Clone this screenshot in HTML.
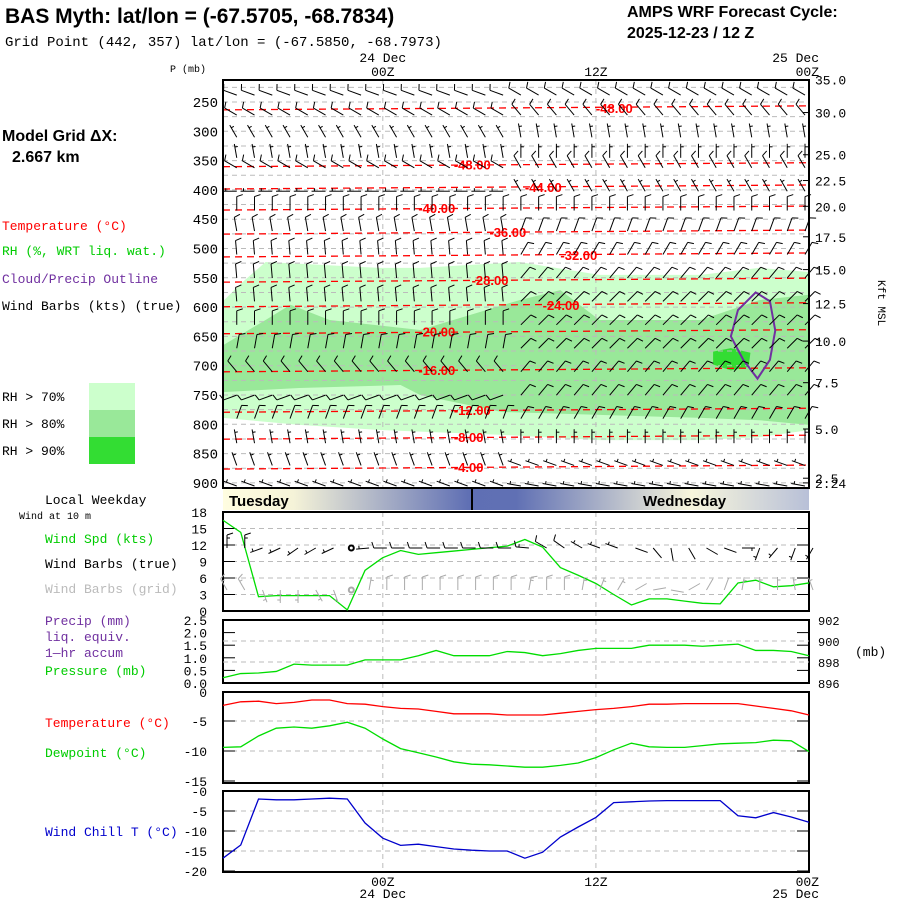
<!DOCTYPE html>
<html><head><meta charset="utf-8"><style>
body{margin:0;background:#fff}
svg{display:block}
text{font-family:"Liberation Mono",monospace}
.sans{font-family:"Liberation Sans",sans-serif}
</style></head><body>
<svg id="c" width="900" height="900" viewBox="0 0 900 900" xmlns="http://www.w3.org/2000/svg">
<defs>
<linearGradient id="dayg" x1="0" x2="1" y1="0" y2="0">
<stop offset="0" stop-color="#fffde0"/><stop offset="0.12" stop-color="#f5f3d8"/><stop offset="0.42" stop-color="#5f6fb4"/><stop offset="0.5" stop-color="#6070b4"/><stop offset="0.8" stop-color="#f8f6dc"/><stop offset="1" stop-color="#b8c0d8"/>
</linearGradient>
</defs>
<text x="5" y="23" class="sans" font-size="21" font-weight="bold">BAS Myth:  lat/lon = (-67.5705, -68.7834)</text>
<text x="5" y="46" font-size="14">Grid Point (442, 357) lat/lon = (-67.5850, -68.7973)</text>
<text x="627" y="17" class="sans" font-size="16" font-weight="bold">AMPS WRF Forecast Cycle:</text>
<text x="627" y="38" class="sans" font-size="16" font-weight="bold">2025-12-23 / 12  Z</text>
<text x="2" y="141" class="sans" font-size="16" font-weight="bold">Model Grid ΔX:</text>
<text x="12" y="162" class="sans" font-size="16" font-weight="bold">2.667 km</text>
<text x="2" y="230" font-size="13" fill="#ff0000">Temperature (°C)</text>
<text x="2" y="255" font-size="13" fill="#00cc00">RH (%, WRT liq. wat.)</text>
<text x="2" y="283" font-size="13" fill="#7030a0">Cloud/Precip Outline</text>
<text x="2" y="310" font-size="13" fill="#000">Wind Barbs (kts) (true)</text>
<rect x="89" y="383" width="46" height="27" fill="#ccffcc"/>
<rect x="89" y="410" width="46" height="27" fill="#99e899"/>
<rect x="89" y="437" width="46" height="27" fill="#33dd33"/>
<text x="2" y="401" font-size="13">RH &gt; 70%</text>
<text x="2" y="428" font-size="13">RH &gt; 80%</text>
<text x="2" y="455" font-size="13">RH &gt; 90%</text>
<text x="170" y="72" font-size="10">P (mb)</text>
<text x="878" y="280" font-size="11" transform="rotate(90 878 280)">Kft MSL</text>
<text x="45" y="504" font-size="13">Local Weekday</text>
<text x="19" y="519" font-size="10">Wind at 10 m</text>
<text x="45" y="543" font-size="13" fill="#00cc00">Wind Spd (kts)</text>
<text x="45" y="568" font-size="13">Wind Barbs (true)</text>
<text x="45" y="593" font-size="13" fill="#bbbbbb">Wind Barbs (grid)</text>
<text x="45" y="625" font-size="13" fill="#7030a0">Precip (mm)</text>
<text x="45" y="641" font-size="13" fill="#7030a0">liq. equiv.</text>
<text x="45" y="657" font-size="13" fill="#7030a0">1—hr accum</text>
<text x="45" y="675" font-size="13" fill="#00cc00">Pressure (mb)</text>
<text x="45" y="727" font-size="13" fill="#ff0000">Temperature (°C)</text>
<text x="45" y="757" font-size="13" fill="#00cc00">Dewpoint (°C)</text>
<text x="45" y="836" font-size="13" fill="#0000cc">Wind Chill T (°C)</text>
<text x="855" y="656" font-size="13">(mb)</text>
<g id="layer"></g>
</svg>
<script>
// ---------- data ----------
const hours = [];for(let i=0;i<=33;i++)hours.push(i); // hours since 15Z 23 Dec
const windSpd = [16.5,14.3,2.6,2.8,2.8,2.8,2.8,0.2,7.4,9.7,11,10.3,10.6,10.9,11.2,11.5,11.8,13,11.6,7.9,6.5,5,3,1.1,2.2,2.2,1.8,1.4,1.3,5.1,5.6,4.4,4.6,5.1];
const sfcPres = [896.5,896.9,896.95,897.1,897.8,897.7,897.7,897.7,898.2,898.2,898.2,898.6,899.1,898.6,898.6,898.6,899,898.9,898.6,898.8,899.1,899.3,899.3,899.3,899.6,899.6,899.6,899.5,899.6,899.7,899.1,899.1,899,898.6];
const temp = [-2.4,-1.8,-1.7,-2.1,-1.9,-1.5,-1.5,-2.1,-2.2,-2.6,-2.9,-3,-3.4,-3.8,-3.8,-3.8,-4,-4,-4,-3.7,-3.4,-3.1,-2.9,-2.6,-2.2,-2.2,-2.1,-2.1,-2.1,-2.1,-2.5,-2.9,-3.3,-4];
const dewpt = [-9.4,-9.3,-7.5,-6.2,-6,-6.2,-5.8,-5.2,-6.2,-8,-9.6,-10.3,-11,-11.8,-12.2,-12.3,-12.5,-12.7,-12.7,-12.4,-12,-11.1,-9.8,-8.7,-9.3,-9.4,-9.4,-9.1,-8.8,-8.7,-8.6,-8.2,-8.3,-10.1];
const windChill = [-16.8,-13.5,-2,-2.2,-2.2,-2,-1.8,-2,-8,-11.8,-13.6,-13.3,-13.9,-14.5,-14.8,-15,-15,-16.8,-15.3,-11.5,-9,-6.6,-2.9,-2.7,-2.5,-2.4,-2.4,-2.4,-2.4,-6.2,-6.7,-5.4,-6.5,-7.8];
const sfcDirTrue = [0,0,250,245,235,240,245,-1,265,270,270,270,270,270,270,270,270,275,300,305,300,290,290,110,140,170,150,120,110,90,200,220,200,210];
const sfcDirGrid = [330,330,160,180,180,150,160,-1,10,0,0,0,0,0,0,0,0,10,0,0,10,20,30,60,80,100,60,30,20,10,0,0,350,340];
const presTicks = [250,300,350,400,450,500,550,600,650,700,750,800,850,900];
const kftTicks = ["35.0","30.0","25.0","22.5","20.0","17.5","15.0","12.5","10.0","7.5","5.0","2.5","2.24"];
const kftPres = [212,268,340,384,428,480,536,594,658,729,808,892,900];
const barbLevels = [228,262,300,335,352,392,425,460,500,540,580,620,660,700,740,780,822,860,895];
const barbDirL = [290,300,330,350,300,270,0,350,355,355,355,0,10,320,250,20,350,340,290];
const barbDirR = [300,320,350,0,330,330,0,20,30,40,45,45,45,40,40,30,0,290,280];
const barbSpdL = [10,10,5,5,10,5,10,10,10,10,10,10,10,10,10,10,5,5,5];
const barbSpdR = [10,10,5,5,10,5,10,10,10,10,10,10,10,10,10,10,5,5,5];
const tLevels = [260,357,395,431,472,511,554,596,642,707,776,822,873];
const tLabels = ["-48.00","-48.00","-44.00","-40.00","-36.00","-32.00","-28.00","-24.00","-20.00","-16.00","-12.00","-8.00","-4.00"];
const tLabelHour = [21,13,17,11,15,19,14,18,11,11,13,13,13];
const rh70 = [[0,590],[1,560],[2.4,523],[8.8,533],[11.1,533],[16.7,523],[21.2,545],[26.9,545],[30.2,533],[33,540],[33,810],[30.2,822],[26.9,827],[21.2,827],[15.7,818],[9,810],[4.3,801],[0,789]];
const rh80 = [[0,665],[2.4,622],[3.8,596],[6,622],[11.1,639],[16.7,588],[19,571],[21.2,622],[26.9,622],[30.2,588],[33,579],[33,801],[30.2,793],[26.9,789],[21.2,784],[15.7,779],[11.1,750],[10,733],[4.3,738],[0,745]];
const rh90 = [[27.6,676],[28.6,670],[29.7,678],[29.6,702],[28.6,708],[27.6,698]];
const cloud = [[30.0,575],[30.8,590],[31.1,640],[30.8,690],[30.1,722],[29.3,690],[28.6,650],[29.0,605]];
// ---------- axes ----------
const X0=223,X1=809;
const xs=h=>X0+h*(X1-X0)/33;
const yp=p=>102+(p-250)*0.586;
const yw=v=>611-v*5.5;
const ypr=v=>683-(v-896)*10.5;
const yt=v=>691-v*6;
const ywc=v=>791-v*4.0;
const NS="http://www.w3.org/2000/svg";
const L=document.getElementById('layer');
function el(t,a,parent){const e=document.createElementNS(NS,t);for(const k in a)e.setAttribute(k,a[k]);(parent||L).appendChild(e);return e;}
function txt(x,y,s,a){const e=el('text',Object.assign({x:x,y:y},a||{}));e.textContent=s;return e;}
[[rh70,'#ccffcc','rh70-region'],[rh80,'#99e899','rh80-region'],[rh90,'#33dd33','rh90-region']].forEach(r=>{
 const e=el('polygon',{points:r[0].map(q=>xs(q[0])+','+yp(q[1])).join(' '),fill:r[1]});
 
 
});
for(let p=225;p<=900;p+=25){const e=el('line',{x1:X0,x2:X1,y1:yp(p),y2:yp(p),stroke:'#bbb','stroke-dasharray':'5,4'});
 
 }
[9,21].forEach(h=>{[[80,488],[512,872]].forEach(s=>{const e=el('line',{x1:xs(h),x2:xs(h),y1:s[0],y2:s[1],stroke:'#bbb','stroke-dasharray':'5,4'});
 
 });});
tLevels.forEach((p,i)=>{
 const e=el('line',{x1:X0,x2:X1,y1:yp(p)+2,y2:yp(p)-2,stroke:'#ff0000','stroke-dasharray':'7,5','stroke-width':1.3});
 
 
 const t=txt(xs(tLabelHour[i]),yp(p)+5,tLabels[i],{fill:'#ff0000','font-size':13,'font-weight':'bold','class':'sans'});
 
 
});
{const e=el('polygon',{points:cloud.map(q=>xs(q[0])+','+yp(q[1])).join(' '),fill:'none',stroke:'#7030a0','stroke-width':2});
 
 }
function barb(x,y,dir,spd,col,len,calm){
 const g=el('g',{stroke:col,fill:'none','stroke-width':1});
 if(dir<0||spd<calm){el('circle',{cx:x,cy:y,r:2.5,'stroke-width':2},g);return g;}
 const r=dir*Math.PI/180,dx=Math.sin(r),dy=-Math.cos(r);
 const ex=x+dx*len,ey=y+dy*len;
 el('line',{x1:x,y1:y,x2:ex,y2:ey},g);
 let s=Math.round(spd/5)*5,pos=0;
 const px=-dy,py=dx;
 while(s>=10){const bx=ex-dx*pos*3,by=ey-dy*pos*3;el('line',{x1:bx,y1:by,x2:bx+px*6+dx*2,y2:by+py*6+dy*2},g);s-=10;pos++;}
 if(s>=5){if(pos===0)pos=1;const bx=ex-dx*pos*3,by=ey-dy*pos*3;el('line',{x1:bx,y1:by,x2:bx+px*3,y2:by+py*3},g);}
 return g;
}
barbLevels.forEach((p,i)=>{
 hours.forEach(h=>{
  if(h===0)return;
  const right=h>16;
  const g=barb(xs(h)-4,yp(p)+6,right?barbDirR[i]:barbDirL[i],right?barbSpdR[i]:barbSpdL[i],'#000',14,2.5);
  
  
 });
});
{const e=el('rect',{x:X0,y:80,width:X1-X0,height:408,fill:'none',stroke:'#000','stroke-width':2});
 
 }
presTicks.forEach(p=>{const t=txt(218,yp(p)+5,String(p),{'font-size':14,'text-anchor':'end'});
 
 });
kftTicks.forEach((k,i)=>{const y=yp(kftPres[i]);
 el('line',{x1:X1-6,x2:X1,y1:y,y2:y,stroke:'#000'});
 const t=txt(815,y+5,k,{'font-size':13});
 
 });
[[9,'24 Dec','00Z'],[21,'','12Z'],[33,'25 Dec','00Z']].forEach(a=>{
 const x=a[0]===33?xs(a[0])+10:xs(a[0]);
 if(a[1]){const t=txt(x,62,a[1],{'font-size':13,'text-anchor':a[0]===33?'end':'middle'});
  const b=txt(x,898,a[1],{'font-size':13,'text-anchor':a[0]===33?'end':'middle'});}
 const t=txt(x,76,a[2],{'font-size':13,'text-anchor':a[0]===33?'end':'middle'});
 const b=txt(x,886,a[2],{'font-size':13,'text-anchor':a[0]===33?'end':'middle'});
});
{const e=el('rect',{x:X0,y:489,width:X1-X0,height:21,fill:'url(#dayg)'});
 el('line',{x1:472,x2:472,y1:489,y2:510,stroke:'#000','stroke-width':2});
 const a=txt(229,506,'Tuesday',{'class':'sans','font-size':15,'font-weight':'bold'});
 const b=txt(643,506,'Wednesday',{'class':'sans','font-size':15,'font-weight':'bold'});}
function panel(y0,y1,name,ticks,tickY,gridY,rTicks,rY){
 const f=el('rect',{x:X0,y:y0,width:X1-X0,height:y1-y0,fill:'none',stroke:'#000','stroke-width':2});
 
 
 gridY.forEach(y=>{el('line',{x1:X0,x2:X1,y1:y,y2:y,stroke:'#bbb','stroke-dasharray':'5,4'});});
 ticks.forEach((t,i)=>{const y=tickY[i];el('line',{x1:X0,x2:X0+12,y1:y,y2:y,stroke:'#000'});el('line',{x1:X1-12,x2:X1,y1:y,y2:y,stroke:'#000'});
  const e=txt(207,y+5,t,{'font-size':13,'text-anchor':'end'});});
 (rTicks||[]).forEach((t,i)=>{const e=txt(818,rY[i]+5,t,{'font-size':12});});
}
const wsTicks=[0,3,6,9,12,15,18];
panel(512,611,'wind-panel',wsTicks.map(String),wsTicks.map(yw),[3,6,9,12,15].map(yw));
const prTicksL=['0.0','0.5','1.0','1.5','2.0','2.5'];
const prTicksR=[896,898,900,902];
panel(620,683,'pressure-panel',prTicksL,prTicksL.map(v=>683-parseFloat(v)*25.2),[898,900].map(ypr),prTicksR.map(String),prTicksR.map(ypr));
const tTicks=[-15,-10,-5];
panel(692,783,'temperature-panel',tTicks.map(String),tTicks.map(yt),[-5,-10].map(yt));
{const e=txt(207,697,'0',{'font-size':13,'text-anchor':'end'});}
const wcTicks=[0,-5,-10,-15,-20];
panel(791,872,'windchill-panel',wcTicks.map(v=>v===0?'-0':String(v)),wcTicks.map(ywc),[-5,-10,-15].map(ywc));
function series(vals,f,col,name){
 const e=el('polyline',{points:vals.map((v,i)=>xs(hours[i])+','+f(v)).join(' '),fill:'none',stroke:col,'stroke-width':1.3});
 
 
}
series(windSpd,yw,'#00dd00','wind-speed-line');
series(sfcPres,ypr,'#00dd00','pressure-line');
series(temp,yt,'#ff0000','temperature-line');
series(dewpt,yt,'#00dd00','dewpoint-line');
series(windChill,ywc,'#0000cc','windchill-line');
hours.forEach(h=>{
 const g=barb(xs(h)+4,548,sfcDirTrue[h],windSpd[h],'#000',13,0.5);
 
 
 const g2=barb(xs(h)+4,590,sfcDirGrid[h],windSpd[h],'#aaaaaa',13,0.5);
 
 
});
</script>
</body></html>
